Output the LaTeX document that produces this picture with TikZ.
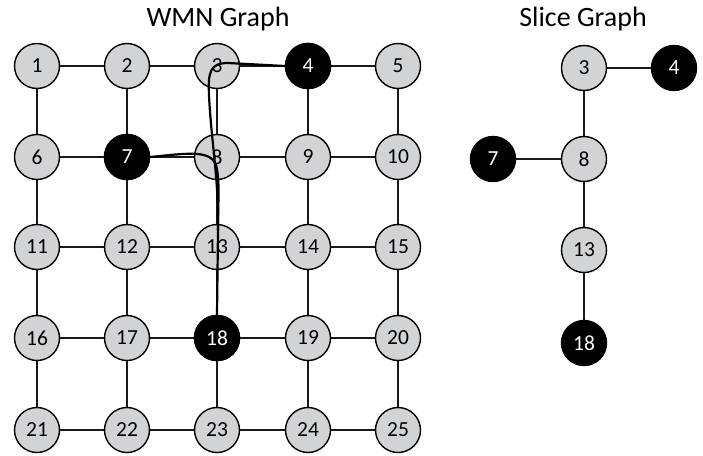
\documentclass[tikz,border=0pt]{standalone}
\usepackage{fontspec}
\setmainfont{Carlito}
\begin{document}
\begin{tikzpicture}[x=1pt,y=-1pt,
  vtx/.style={circle,draw=black,line width=1.4pt,fill=nodegray,minimum size=45pt,inner sep=0pt,font=\fontsize{21.5}{22}\selectfont},
  hub/.style={vtx,fill=black,text=white},
  link/.style={line width=1.5pt,draw=black!90},
  route/.style={line width=2.2pt,draw=black},
  title/.style={font=\fontsize{28}{28}\selectfont}]
\definecolor{nodegray}{HTML}{D1D3D4}
\useasboundingbox (0,0) rectangle (703,455);

\node[title] (t1) at (218,19) {WMN Graph};
\node[title] (t2) at (583,19) {Slice Graph};

% 5x5 mesh
\foreach \r/\yy in {0/66,1/157,2/247,3/338,4/430}{
  \foreach \c/\xx in {0/37,1/127,2/217,3/308,4/398}{
    \pgfmathtruncatemacro{\k}{5*\r+\c+1}
    \node[vtx] (n\k) at (\xx,\yy) {\k};
  }
}
\foreach \k in {4,7,18}{ \node[hub] at (n\k) {\k}; }

% horizontal and vertical links
\foreach \a/\b in {1/2,2/3,3/4,4/5,6/7,7/8,8/9,9/10,11/12,12/13,13/14,14/15,16/17,17/18,18/19,19/20,21/22,22/23,23/24,24/25,
  1/6,6/11,11/16,16/21,2/7,7/12,12/17,17/22,3/8,8/13,13/18,18/23,4/9,9/14,14/19,19/24,5/10,10/15,15/20,20/25}{
  \draw[link] (n\a) -- (n\b);
}

% routes towards 18
\draw[route] (n4.west) -- (228,63) .. controls (210,63) and (208,72) .. (209,95)
  .. controls (211,140) and (219,180) .. (218,230) -- (n18.north);
\draw[route] (n7.east) .. controls (190,153) and (210,150) .. (216,165)
  .. controls (220,180) and (218,200) .. (218,230);

% slice graph
\node[vtx] (s3) at (584,68) {3};
\node[hub] (s4) at (674,68) {4};
\node[hub] (s7) at (493,159) {7};
\node[vtx] (s8) at (584,159) {8};
\node[vtx] (s13) at (584,250) {13};
\node[hub] (s18) at (584,343) {18};
\draw[link] (s3) -- (s4);
\draw[link] (s3) -- (s8);
\draw[link] (s7) -- (s8);
\draw[link] (s8) -- (s13);
\draw[link] (s13) -- (s18);
\end{tikzpicture}
\end{document}
